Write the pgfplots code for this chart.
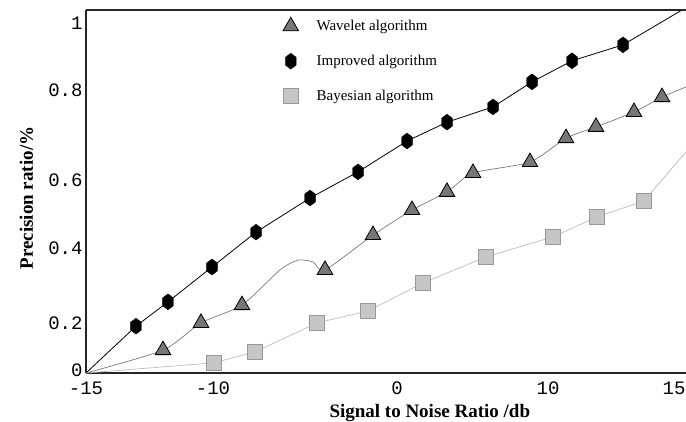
\documentclass[border=0pt]{standalone}
\usepackage{pgfplots}
\pgfplotsset{compat=1.18}
\usepackage{fontspec}
\setmainfont{Liberation Serif}
\setmonofont{Liberation Mono}

\definecolor{wavefill}{HTML}{777777}
\definecolor{waveline}{HTML}{7A7A7A}
\definecolor{bayfill}{HTML}{C6C6C6}
\definecolor{bayedge}{HTML}{979797}
\definecolor{bayline}{HTML}{BDBDBD}

% tall hexagon marker (pointy top and bottom)
\pgfdeclareplotmark{hexv}{%
  \pgfpathmoveto{\pgfqpoint{0pt}{1.5\pgfplotmarksize}}%
  \pgfpathlineto{\pgfqpoint{\pgfplotmarksize}{0.75\pgfplotmarksize}}%
  \pgfpathlineto{\pgfqpoint{\pgfplotmarksize}{-0.75\pgfplotmarksize}}%
  \pgfpathlineto{\pgfqpoint{0pt}{-1.5\pgfplotmarksize}}%
  \pgfpathlineto{\pgfqpoint{-\pgfplotmarksize}{-0.75\pgfplotmarksize}}%
  \pgfpathlineto{\pgfqpoint{-\pgfplotmarksize}{0.75\pgfplotmarksize}}%
  \pgfpathclose
  \pgfusepathqfillstroke}

\begin{document}
\begin{tikzpicture}
\begin{axis}[
    scale only axis,
    width=600pt, height=363pt,
    xmin=-15, xmax=15, ymin=0, ymax=1,
    axis x line*=bottom, axis y line*=left,
    axis line style={line width=1.2pt, draw=black!85},
    major tick length=0pt,
    xtick={-15,-8.65,0.55,8.1,14.4},
    xticklabels={-15,-10,0,10,15},
    ytick={0.008,0.138,0.344,0.532,0.780,0.964},
    yticklabels={0,0.2,0.4,0.6,0.8,1},
    ticklabel style={font=\ttfamily\fontsize{19}{19}\selectfont},
    xticklabel style={yshift=-5pt},
    xlabel={Signal to Noise Ratio /db},
    ylabel={Precision ratio/\%},
    xlabel style={font=\bfseries\fontsize{19}{19}\selectfont,
        at={([yshift=-44pt]rel axis cs:0.573,0)}, anchor=base},
    ylabel style={font=\bfseries\fontsize{19}{19}\selectfont,
        at={([xshift=-53pt]rel axis cs:0,0.482)}, anchor=base},
    legend style={draw=none, fill=none, at={(rel axis cs:0.323,0.986)},
        anchor=north west, font=\fontsize{15}{15}\selectfont,
        row sep=19pt, legend cell align=left,
        /tikz/every odd column/.style={column sep=16pt}},
    ]
    % lines
    \addplot[forget plot, draw=waveline, line width=0.7pt, smooth, tension=0.4] coordinates {
        (-15,0) (-11.15,0.063) (-9.25,0.138) (-7.2,0.187) (-5.3,0.284) (-4.4,0.311)
        (-3.65,0.306) (-3.05,0.284) (-0.65,0.380) (1.3,0.449) (3.05,0.499)
        (4.35,0.551) (7.2,0.581) (9.0,0.647) (10.5,0.678) (12.4,0.719)
        (13.8,0.760) (15,0.788)
    };
    \addplot[forget plot, draw=black, line width=0.8pt] coordinates {
        (-15,0) (-12.5,0.129) (-10.9,0.196) (-8.7,0.292) (-6.5,0.388) (-3.8,0.482)
        (-1.4,0.554) (1.05,0.639) (3.05,0.691) (5.35,0.733) (7.3,0.802)
        (9.3,0.860) (11.85,0.904) (14.8,1.0)
    };
    \addplot[forget plot, draw=bayline, line width=0.7pt] coordinates {
        (-15,0) (-8.6,0.028) (-6.55,0.058) (-3.45,0.138) (-0.9,0.171) (1.85,0.248)
        (5.0,0.320) (8.35,0.375) (10.55,0.430) (12.9,0.474) (15,0.609)
    };
    % markers
    \addplot[only marks, mark=triangle*, mark size=9pt,
        mark options={fill=wavefill, draw=black, line width=0.8pt}] coordinates {
        (-11.15,0.063) (-9.25,0.138) (-7.2,0.187) (-3.05,0.284) (-0.65,0.380)
        (1.3,0.449) (3.05,0.499) (4.35,0.551) (7.2,0.581) (9.0,0.647)
        (10.5,0.678) (12.4,0.719) (13.8,0.760)
    };
    \addlegendentry{Wavelet algorithm}
    \addplot[only marks, mark=hexv, mark size=5.3pt,
        mark options={fill=black, draw=black}] coordinates {
        (-12.5,0.129) (-10.9,0.196) (-8.7,0.292) (-6.5,0.388) (-3.8,0.482)
        (-1.4,0.554) (1.05,0.639) (3.05,0.691) (5.35,0.733) (7.3,0.802)
        (9.3,0.860) (11.85,0.904)
    };
    \addlegendentry{Improved algorithm}
    \addplot[only marks, mark=square*, mark size=7.5pt,
        mark options={fill=bayfill, draw=bayedge, line width=0.8pt}] coordinates {
        (-8.6,0.028) (-6.55,0.058) (-3.45,0.138) (-0.9,0.171) (1.85,0.248)
        (5.0,0.320) (8.35,0.375) (10.55,0.430) (12.9,0.474)
    };
    \addlegendentry{Bayesian algorithm}
\end{axis}
\draw[line width=1.2pt, black!85] (current axis.north west) -- (current axis.north east);
\pgfresetboundingbox
\path (current axis.south west) ++(-86pt,-48pt) rectangle ++(686pt,421pt);
\end{tikzpicture}
\end{document}
